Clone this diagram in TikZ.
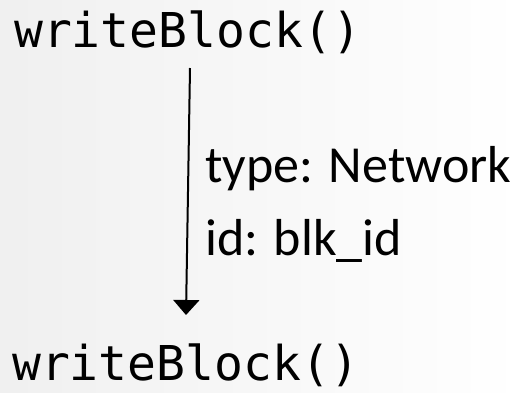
\documentclass[tikz,border=0pt]{standalone}
\usepackage{fontspec}
\setmainfont{Carlito}
\newfontfamily\codefont{DejaVu Sans Mono}
\newfontfamily\labelfont{Carlito}
\usetikzlibrary{arrows.meta}
\begin{document}
\begin{tikzpicture}[x=1pt,y=-1pt,
  code/.style={inner sep=0pt,anchor=base west,font=\codefont\fontsize{48}{58}\selectfont},
  lbl/.style={inner sep=0pt,anchor=base west,font=\labelfont\fontsize{52}{62}\selectfont},
  flow/.style={line width=2pt,-{Triangle[width=26pt,length=15pt]}}]
\shade[left color=black!6,right color=white] (0,0) rectangle (522,392);
\useasboundingbox (0,0) rectangle (522,392);
\node[code] (top) at (14,47) {writeBlock()};
\node[code] (bot) at (12,380) {writeBlock()};
\node[lbl] (l1) at (205,182) {type: Network};
\node[lbl] (l2) at (205,255) {id: blk\_id};
\coordinate (s) at (190,68);
\coordinate (e) at (186,315);
\draw[flow] (s) -- (e);
\end{tikzpicture}
\end{document}
